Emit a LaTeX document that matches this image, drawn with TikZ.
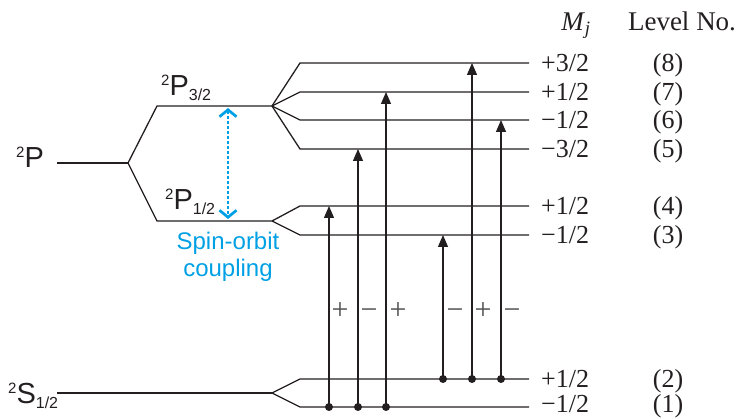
\documentclass[tikz,border=0pt]{standalone}
\usepackage{fontspec}
\setmainfont{Liberation Serif}
\newfontfamily\arialf{Liberation Sans}
\usetikzlibrary{arrows.meta}
\definecolor{lvl}{RGB}{35,31,32}
\definecolor{cyanb}{RGB}{0,160,228}
\definecolor{sgn}{RGB}{80,80,80}
\newcommand{\termlab}[2]{{\arialf\fontsize{29}{29}\selectfont\raisebox{10pt}{\fontsize{15}{15}\selectfont 2}#1\raisebox{-5pt}{\fontsize{16}{16}\selectfont #2}}}
\tikzset{
  levelline/.style={draw=lvl, line width=1.3pt},
  transarrow/.style={draw=lvl, line width=1.3pt, -{Triangle[length=12pt,width=10pt]}},
  startdot/.style={fill=lvl, circle, inner sep=0pt, minimum size=8pt},
  mjlab/.style={anchor=base west, inner sep=0pt, font=\fontsize{26}{28}\selectfont, text=lvl},
  numlab/.style={anchor=base, inner sep=0pt, font=\fontsize{26}{28}\selectfont, text=lvl},
  headlab/.style={anchor=base, inner sep=0pt, font=\fontsize{27}{29}\selectfont, text=lvl},
  signlab/.style={anchor=base, inner sep=0pt, font=\fontsize{30}{32}\selectfont, text=sgn},
  termnode/.style={anchor=base west, inner sep=0pt, text=lvl},
  sobarrow/.style={draw=cyanb, line width=2.7pt, dash pattern=on 2.7pt off 2.3pt,
     {Straight Barb[length=7pt,width=17pt]}-{Straight Barb[length=7pt,width=17pt]}}
}
\begin{document}
\begin{tikzpicture}[x=1pt,y=-1pt]
\useasboundingbox (0,0) rectangle (740,419);

% term coordinates
\coordinate (P0) at (57,163);
\coordinate (PJ) at (128,163);
\coordinate (P3s) at (157,106);
\coordinate (P1s) at (157,221);
\coordinate (F3) at (272,106);
\coordinate (F1) at (272,221);
\coordinate (S0) at (57,393);
\coordinate (FS) at (272,393);

% sublevels
\foreach \n/\y in {8/63,7/92,6/120,5/149,4/206,3/235,2/379,1/407}{
  \coordinate (L\n s) at (300,\y);
  \coordinate (L\n e) at (529,\y);
}

% 2P splitting
\draw[levelline] (P0) -- (PJ);
\draw[levelline] (PJ) -- (P3s) -- (F3);
\draw[levelline] (PJ) -- (P1s) -- (F1);
\foreach \n in {8,7,6,5}{\draw[levelline] (F3) -- (L\n s) -- (L\n e);}
\foreach \n in {4,3}{\draw[levelline] (F1) -- (L\n s) -- (L\n e);}
\draw[levelline] (S0) -- (FS);
\foreach \n in {2,1}{\draw[levelline] (FS) -- (L\n s) -- (L\n e);}

% term labels
\node[termnode] (tP) at (16,168) {\termlab{P}{}};
\node[termnode] (tP3) at (161,96) {\termlab{P}{3/2}};
\node[termnode] (tP1) at (165,210) {\termlab{P}{1/2}};
\node[termnode] (tS) at (8,404) {\termlab{S}{1/2}};

% spin-orbit coupling
\coordinate (D1) at (228,108);
\coordinate (D2) at (228,219);
\draw[sobarrow] (D1) -- (D2);
\node[align=center, text=cyanb, inner sep=0pt, font=\arialf\fontsize{24}{26.5}\selectfont] (so) at (228,257) {Spin-orbit\\coupling};

% transitions
\foreach \k/\x/\from/\to in {a/329/407/206, b/358/407/149, c/386/407/92, d/443/379/235, e/472/379/63, f/501/379/120}{
  \coordinate (B\k) at (\x,\from);
  \coordinate (T\k) at (\x,\to);
  \draw[transarrow] (B\k) -- (T\k);
  \node[startdot] (dot\k) at (B\k) {};
}

% polarisation signs
\foreach \k/\x/\s in {a/340/+, b/369/−, c/398/+, d/455/−, e/483/+, f/512/−}{
  \node[signlab] (sg\k) at (\x,319.5) {\s};
}

% header
\node[headlab] (hmj) at (576,31) {\textit{M}\textsubscript{\textit{j}}};
\node[headlab] (hlev) at (682,31) {Level No.};

% Mj values and level numbers
\foreach \n/\y/\m in {8/72/+3\slash 2, 7/101/+1\slash 2, 6/129/−1\slash 2, 5/158/−3\slash 2, 4/215/+1\slash 2, 3/244/−1\slash 2, 2/387.5/+1\slash 2, 1/412.5/−1\slash 2}{
  \node[mjlab] (mj\n) at (541,\y) {\m};
  \node[numlab] (no\n) at (668,\y) {(\n)};
}
\end{tikzpicture}
\end{document}
